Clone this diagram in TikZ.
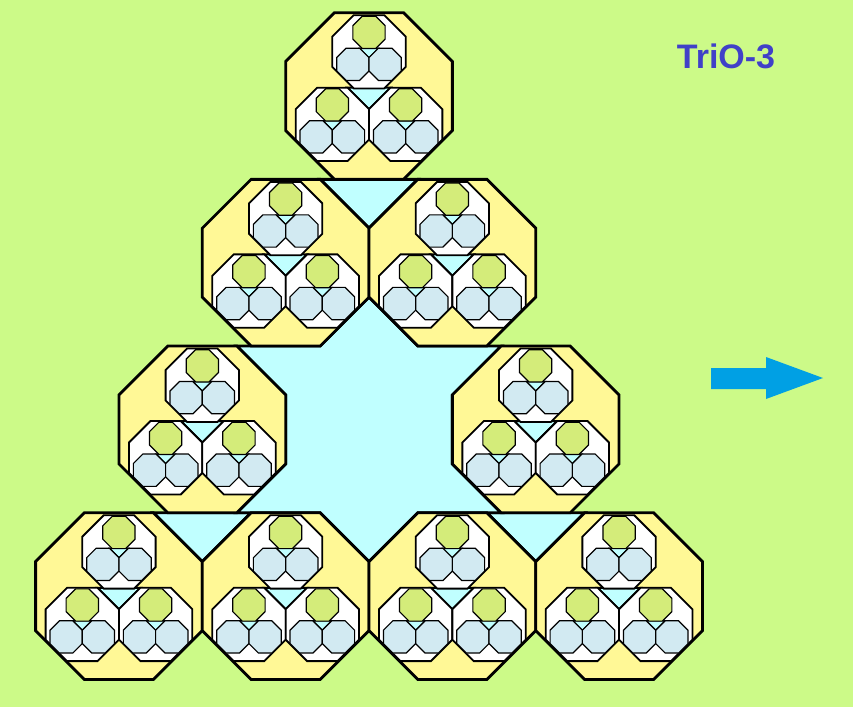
\documentclass[tikz,border=0pt]{standalone}
\usepackage{fontspec}
\setmainfont{Liberation Sans}

\definecolor{bggreen}{RGB}{204,250,136}
\definecolor{octyellow}{RGB}{255,248,150}
\definecolor{gapcyan}{RGB}{192,255,255}
\definecolor{octblue}{RGB}{210,234,242}
\definecolor{octgreen}{RGB}{212,236,122}
\definecolor{arrowblue}{RGB}{0,160,228}
\definecolor{titleblue}{RGB}{64,64,200}

\tikzset{
  every pic/.style={transform shape},
  octa/.pic={\path[pic actions] (-0.5,-0.2071) -- (-0.2071,-0.5) -- (0.2071,-0.5) -- (0.5,-0.2071)
      -- (0.5,0.2071) -- (0.2071,0.5) -- (-0.2071,0.5) -- (-0.5,0.2071) -- cycle;},
  gap/.style={draw=black, fill=gapcyan},
  trio one/.pic={
    \pic[draw=black, fill=white, line width=1.8pt] {octa};
    \path[gap, line width=1.2pt] (-0.129,-0.05) -- (0.129,-0.05) -- (0,0.079) -- cycle;
    \pic[draw=black, fill=octgreen, line width=1.2pt, scale=0.44] at (0,-0.265) {octa};
    \foreach \dx in {-0.22,0.22}
      \pic[draw=black, fill=octblue, line width=1.2pt, scale=0.44] at (\dx,0.17) {octa};
  },
  trio two/.pic={
    \pic[draw=black, fill=octyellow, line width=2.8pt] {octa};
    \path[gap, line width=2pt] (-0.129,-0.05) -- (0.129,-0.05) -- (0,0.079) -- cycle;
    \pic[scale=0.44] at (0,-0.265) {trio one};
    \foreach \dx in {-0.22,0.22}
      \pic[scale=0.44] at (\dx,0.17) {trio one};
  },
}

\begin{document}
\begin{tikzpicture}[x=1pt, y=-1pt]
  \fill[bggreen] (0,0) rectangle (853,707);
  \useasboundingbox (0,0) rectangle (853,707);
  \path[gap, line width=2.8pt] (320.17,179.35) -- (417.83,179.35) -- (369,228.18) -- cycle;
  \path[gap, line width=2.8pt] (153.47,512.75) -- (251.13,512.75) -- (202.3,561.58) -- cycle;
  \path[gap, line width=2.8pt] (486.87,512.75) -- (584.53,512.75) -- (535.7,561.58) -- cycle;
  \path[gap, line width=2.8pt] (369,297.22) -- (417.83,346.05) -- (501.18,346.05) -- (452.35,394.88)
    -- (452.35,463.92) -- (501.18,512.75) -- (417.83,512.75) -- (369,561.58) -- (320.17,512.75)
    -- (236.82,512.75) -- (285.65,463.92) -- (285.65,394.88) -- (236.82,346.05) -- (320.17,346.05) -- cycle;
  \foreach \cx/\cy in {369/96, 285.65/262.7, 452.35/262.7, 202.3/429.4, 535.7/429.4,
      118.95/596.1, 285.65/596.1, 452.35/596.1, 619.05/596.1}
    \pic[scale=166.7] at (\cx,\cy) {trio two};
  \node[font=\bfseries\fontsize{34}{40}\selectfont, text=titleblue, anchor=base] (title) at (726,68) {TriO-3};
  \fill[arrowblue] (711,368) -- (766,368) -- (766,357) -- (823,378) -- (766,399) -- (766,389) -- (711,389) -- cycle;
\end{tikzpicture}
\end{document}
